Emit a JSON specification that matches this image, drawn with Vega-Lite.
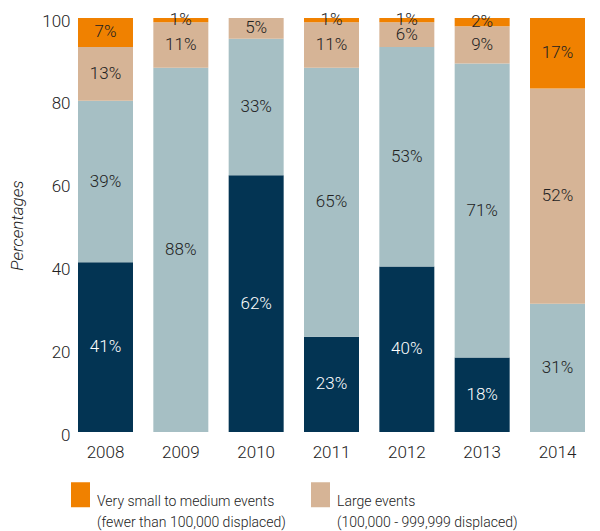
{
  "$schema": "https://vega.github.io/schema/vega-lite/v6.json",
  "width": 507,
  "height": 414,
  "autosize": {"type": "none"},
  "padding": {"left": 78, "top": 18, "right": 15, "bottom": 99},
  "config": {"view": {"stroke": null}, "font": "Roboto"},
  "data": {"values": [
    {"year": "2008", "cat": "Mega events|(3,000,000 or more displaced)", "order": 1, "value": 41},
    {"year": "2008", "cat": "Very large events|(1,000,000 - 2,999,999 displaced)", "order": 2, "value": 39},
    {"year": "2008", "cat": "Large events|(100,000 - 999,999 displaced)", "order": 3, "value": 13},
    {"year": "2008", "cat": "Very small to medium events|(fewer than 100,000 displaced)", "order": 4, "value": 7},
    {"year": "2009", "cat": "Mega events|(3,000,000 or more displaced)", "order": 1, "value": 0},
    {"year": "2009", "cat": "Very large events|(1,000,000 - 2,999,999 displaced)", "order": 2, "value": 88},
    {"year": "2009", "cat": "Large events|(100,000 - 999,999 displaced)", "order": 3, "value": 11},
    {"year": "2009", "cat": "Very small to medium events|(fewer than 100,000 displaced)", "order": 4, "value": 1},
    {"year": "2010", "cat": "Mega events|(3,000,000 or more displaced)", "order": 1, "value": 62},
    {"year": "2010", "cat": "Very large events|(1,000,000 - 2,999,999 displaced)", "order": 2, "value": 33},
    {"year": "2010", "cat": "Large events|(100,000 - 999,999 displaced)", "order": 3, "value": 5},
    {"year": "2010", "cat": "Very small to medium events|(fewer than 100,000 displaced)", "order": 4, "value": 0},
    {"year": "2011", "cat": "Mega events|(3,000,000 or more displaced)", "order": 1, "value": 23},
    {"year": "2011", "cat": "Very large events|(1,000,000 - 2,999,999 displaced)", "order": 2, "value": 65},
    {"year": "2011", "cat": "Large events|(100,000 - 999,999 displaced)", "order": 3, "value": 11},
    {"year": "2011", "cat": "Very small to medium events|(fewer than 100,000 displaced)", "order": 4, "value": 1},
    {"year": "2012", "cat": "Mega events|(3,000,000 or more displaced)", "order": 1, "value": 40},
    {"year": "2012", "cat": "Very large events|(1,000,000 - 2,999,999 displaced)", "order": 2, "value": 53},
    {"year": "2012", "cat": "Large events|(100,000 - 999,999 displaced)", "order": 3, "value": 6},
    {"year": "2012", "cat": "Very small to medium events|(fewer than 100,000 displaced)", "order": 4, "value": 1},
    {"year": "2013", "cat": "Mega events|(3,000,000 or more displaced)", "order": 1, "value": 18},
    {"year": "2013", "cat": "Very large events|(1,000,000 - 2,999,999 displaced)", "order": 2, "value": 71},
    {"year": "2013", "cat": "Large events|(100,000 - 999,999 displaced)", "order": 3, "value": 9},
    {"year": "2013", "cat": "Very small to medium events|(fewer than 100,000 displaced)", "order": 4, "value": 2},
    {"year": "2014", "cat": "Mega events|(3,000,000 or more displaced)", "order": 1, "value": 0},
    {"year": "2014", "cat": "Very large events|(1,000,000 - 2,999,999 displaced)", "order": 2, "value": 31},
    {"year": "2014", "cat": "Large events|(100,000 - 999,999 displaced)", "order": 3, "value": 52},
    {"year": "2014", "cat": "Very small to medium events|(fewer than 100,000 displaced)", "order": 4, "value": 17}
  ]},
  "transform": [
    {"stack": "value", "groupby": ["year"], "sort": [{"field": "order"}], "as": ["v0", "v1"]},
    {"calculate": "(datum.v0 + datum.v1) / 2", "as": "mid"},
    {"calculate": "datum.value + '%'", "as": "label"}
  ],
  "encoding": {
    "x": {
      "field": "year", "type": "ordinal",
      "scale": {"paddingInner": 0.27, "paddingOuter": 0},
      "axis": {"title": null, "labelAngle": 0, "domain": false, "ticks": false, "labelPadding": 12, "labelFontSize": 17, "labelFontWeight": 300, "labelColor": "#222"}
    }
  },
  "layer": [
    {
      "mark": {"type": "bar"},
      "encoding": {
        "y": {
          "field": "v0", "type": "quantitative",
          "scale": {"domain": [0, 100]},
          "axis": {"values": [0, 20, 40, 60, 80, 100], "grid": false, "domain": false, "ticks": false, "labelPadding": 8, "labelOffset": 3, "labelFontSize": 17, "labelFontWeight": 300, "labelColor": "#222", "title": "Percentages", "titleFontStyle": "italic", "titleFontWeight": 300, "titleFontSize": 17, "titleColor": "#222", "titlePadding": 15}
        },
        "y2": {"field": "v1"},
        "color": {
          "field": "cat", "type": "nominal",
          "scale": {
            "domain": ["Very small to medium events|(fewer than 100,000 displaced)", "Large events|(100,000 - 999,999 displaced)", "Very large events|(1,000,000 - 2,999,999 displaced)", "Mega events|(3,000,000 or more displaced)"],
            "range": ["#F08100", "#D6B496", "#A6BFC4", "#033453"]
          },
          "legend": {
            "values": ["Very small to medium events|(fewer than 100,000 displaced)", "Large events|(100,000 - 999,999 displaced)"],
            "orient": "none", "legendX": -10, "legendY": 464,
            "direction": "horizontal", "columns": 2, "columnPadding": 22,
            "title": null,
            "symbolType": "M-0.76,-1H0.76V1H-0.76Z", "symbolSize": 625, "symbolStrokeWidth": 0, "symbolOpacity": 1,
            "labelExpr": "split(datum.label, '|')",
            "labelFontSize": 14, "labelFontWeight": 300, "labelColor": "#222", "labelOffset": 4, "labelLimit": 400, "labelBaseline": "top",
            "encode": {"labels": {"update": {"lineHeight": {"value": 21}}}}
          }
        },
        "order": {"field": "order"}
      }
    },
    {
      "transform": [{"filter": "datum.value > 0"}],
      "mark": {"type": "text", "fontSize": 17, "fontWeight": 300, "baseline": "middle"},
      "encoding": {
        "y": {"field": "mid", "type": "quantitative"},
        "text": {"field": "label"},
        "color": {"condition": {"test": "datum.order == 1", "value": "#ffffff"}, "value": "#222"}
      }
    }
  ]
}
